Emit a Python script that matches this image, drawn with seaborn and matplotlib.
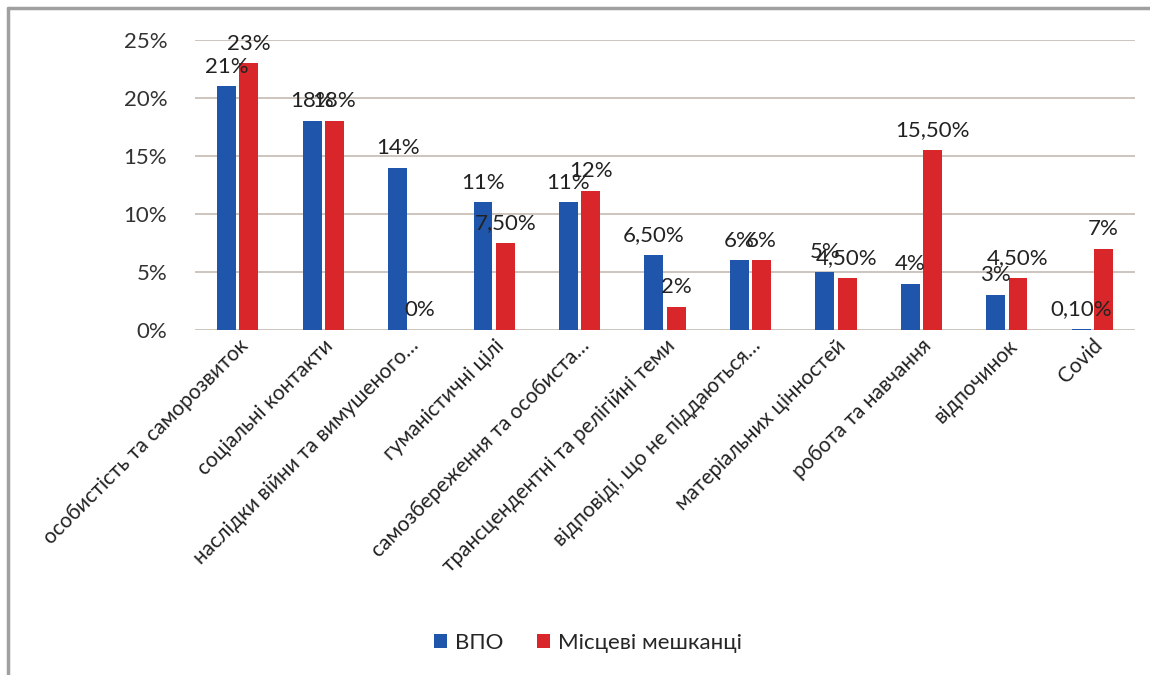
import matplotlib
matplotlib.use("Agg")
import matplotlib.pyplot as plt
from matplotlib.lines import Line2D
from matplotlib.ticker import FuncFormatter
import seaborn as sns
import pandas as pd

categories = [
    "особистість та саморозвиток",
    "соціальні контакти",
    "наслідки війни та вимушеного…",
    "гуманістичні цілі",
    "самозбереження та особиста…",
    "трансцендентні та релігійні теми",
    "відповіді, що не піддаються…",
    "матеріальних цінностей",
    "робота та навчання",
    "відпочинок",
    "Covid",
]
series_names = ["ВПО", "Місцеві мешканці"]
vpo = [21, 18, 14, 11, 11, 6.5, 6, 5, 4, 3, 0.1]
local = [23, 18, 0, 7.5, 12, 2, 6, 4.5, 15.5, 4.5, 7]
y_ticks = [0, 5, 10, 15, 20, 25]

colors = ["#1f56ab", "#d9262a"]

df = pd.DataFrame({
    "cat": categories * 2,
    "group": [series_names[0]] * len(categories) + [series_names[1]] * len(categories),
    "value": vpo + local,
})

sns.set_theme(style="white")
plt.rcParams["font.family"] = ["Lato", "DejaVu Sans"]

fig = plt.figure(figsize=(11.5, 6.75), dpi=100)
ax = fig.add_axes([0.1696, 0.5111, 0.8174, 0.4296])

sns.barplot(data=df, x="cat", y="value", hue="group", hue_order=series_names,
            order=categories, palette=colors, width=0.52, gap=0.15,
            saturation=1, linewidth=0, ax=ax, legend=True)

ax.set_ylim(0, 25)
ax.set_xlim(-0.5, len(categories) - 0.5)
ax.set_yticks(y_ticks)
ax.yaxis.set_major_formatter(FuncFormatter(lambda v, p: f"{v:.0f}%"))
ax.grid(axis="y", color="#c9c0b8", linewidth=1.3)
ax.set_axisbelow(True)
for s in ax.spines.values():
    s.set_visible(False)
ax.tick_params(axis="y", length=0, pad=20, labelsize=16, labelcolor="#333333")
ax.tick_params(axis="x", length=0, pad=4, labelsize=15, labelcolor="#222222")
ax.set_xlabel("")
ax.set_ylabel("")
for lab in ax.get_xticklabels():
    lab.set_rotation(45)
    lab.set_ha("right")
    lab.set_rotation_mode("anchor")


def fmt(v):
    if float(v).is_integer():
        return f"{v:.0f}%"
    return f"{v:.2f}%".replace(".", ",")


for cont, vals in zip(ax.containers, [vpo, local]):
    ax.bar_label(cont, labels=[fmt(v) for v in vals], padding=7,
                 fontsize=16, color="#222222")

handles, labels = ax.get_legend_handles_labels()
ax.legend_.remove()
fig.legend(handles, labels, loc="center", bbox_to_anchor=(0.511, 0.048), ncol=2,
           frameon=False, fontsize=16, handlelength=0.6, handleheight=0.6,
           handletextpad=0.35, columnspacing=1.5)

fig.add_artist(Line2D([8 / 1150, 8 / 1150], [0, 1 - 8 / 675], transform=fig.transFigure,
                      color="#a0a0a0", linewidth=2.5))
fig.add_artist(Line2D([8 / 1150, 1], [1 - 8 / 675, 1 - 8 / 675], transform=fig.transFigure,
                      color="#a0a0a0", linewidth=2.5))

fig.savefig("out.png", dpi=100)
